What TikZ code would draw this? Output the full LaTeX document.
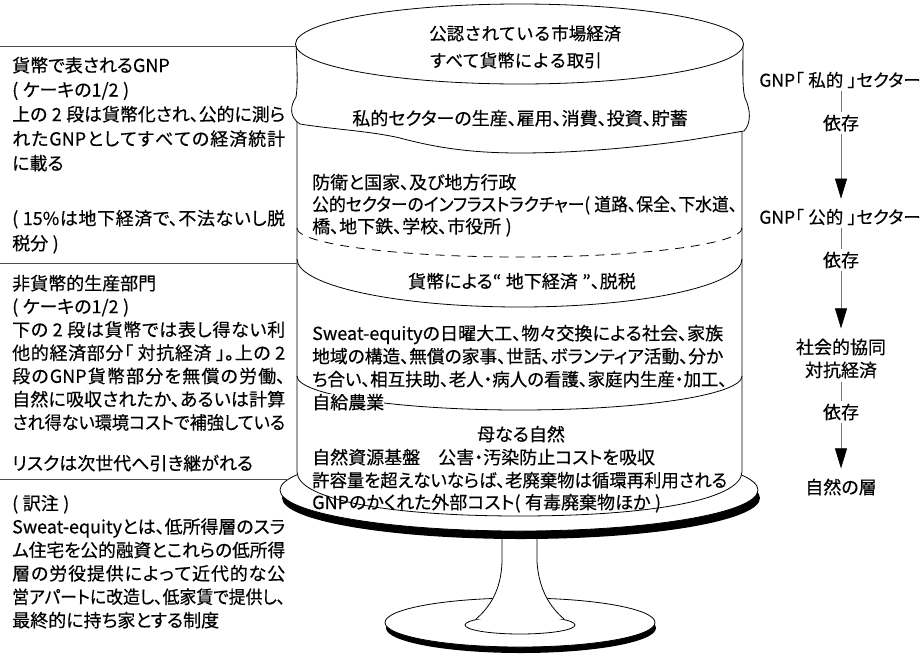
\documentclass[tikz,border=0pt]{standalone}
\usepackage{fontspec}
\usepackage{graphicx}
\setmainfont{Noto Sans CJK JP}[RawFeature=+palt, FakeBold=0.4]
\newfontfamily\fullwidth{Noto Sans CJK JP}[FakeBold=0.4]
\usetikzlibrary{arrows.meta}
% allow stretchable glue between Japanese characters (used for justified lines)
\XeTeXlinebreaklocale "ja"
\XeTeXlinebreakskip=0pt plus 1fil
% \J{width}{text}: justify a single line to the given width, or squeeze it if too long
\newsavebox\linebox
\newcommand{\J}[2]{\sbox\linebox{#2}%
  \ifdim\wd\linebox>#1pt\relax\resizebox{#1pt}{\height}{\usebox\linebox}%
  \else\parbox[t]{#1pt}{\parfillskip=0pt\relax#2}\fi}
\newcommand{\jgap}{\hspace{0.25em}}
\newcommand{\bodyfont}{\fontsize{18}{21}\selectfont}

\tikzset{
  lft/.style={anchor=base west, inner sep=0pt, font=\bodyfont},
  mid/.style={anchor=base, inner sep=0pt, font=\bodyfont},
  side/.style={anchor=center, inner sep=3pt, font=\bodyfont},
  rule/.style={draw=black!70, line width=0.9pt},
  outline/.style={draw=black, line width=0.8pt},
  dep/.style={draw=black!55, line width=0.6pt},
  deparrow/.style={dep, shorten >=7pt, -{Triangle[length=20pt,width=12pt,color=black]}},
}

\begin{document}
\begin{tikzpicture}[x=1pt, y=-1pt, line join=round]
\useasboundingbox (0,0) rectangle (921,654);

% ---- cake stand: foot, stem, plate ----
\fill (521,628) ellipse [x radius=135, y radius=25];
\draw[outline, fill=white] (520,622.5) ellipse [x radius=135, y radius=24.5];
\draw[outline] (520,625) ellipse [x radius=55, y radius=9];
\fill[white] (502,536) -- (502,562) .. controls (501,590) and (490,607) .. (476,619)
  -- (564,619) .. controls (550,607) and (539,590) .. (537,562) -- (537,536) -- cycle;
\draw[outline] (502,536) -- (502,562) .. controls (501,590) and (490,607) .. (476,619);
\draw[outline] (537,536) -- (537,562) .. controls (539,590) and (550,607) .. (564,619);
\fill (521,498) ellipse [x radius=239, y radius=41];
\draw[outline, fill=white] (519,490) ellipse [x radius=239, y radius=41];

% ---- cake body ----
\fill[white] (297,44) -- (297,472) .. controls (298,500) and (390,516) .. (519.5,516)
  .. controls (649,516) and (741,500) .. (742,472) -- (742,44) -- cycle;
\draw[outline] (297,120) -- (297,472) .. controls (298,500) and (390,516) .. (519.5,516)
  .. controls (649,516) and (741,500) .. (742,472) -- (742,128);

% layer boundaries
\draw[outline, dash pattern=on 9pt off 7pt] (297,228) .. controls (297,244) and (396.6,257) .. (519.5,257)
  .. controls (642.4,257) and (742,244) .. (742,228);
\draw[outline] (297,259) .. controls (297,285.5) and (396.6,307) .. (519.5,307)
  .. controls (642.4,307) and (742,285.5) .. (742,259);
\draw[outline] (297,376) .. controls (297,394.8) and (396.6,410) .. (519.5,410)
  .. controls (642.4,410) and (742,394.8) .. (742,376);

% top tier with its dripping lower edge
\draw[outline, fill=white] (296,44) .. controls (297,65) and (298,85) .. (296,97)
  .. controls (290,106) and (289,117) .. (300,124)
  .. controls (330,129) and (370,131) .. (400,138)
  .. controls (430,146) and (465,153) .. (519,153)
  .. controls (580,153) and (640,147) .. (690,140)
  .. controls (715,136) and (732,133) .. (744,131)
  .. controls (751,124) and (751,110) .. (745,98)
  .. controls (742,88) and (743,65) .. (743,44) -- cycle;
\draw[outline, fill=white] (519.5,44) ellipse [x radius=224, y radius=40];

% ---- rules of the left column ----
\draw[rule] (0,46) -- (296,46);
\draw[rule] (0,263) -- (297,263);
\draw[rule] (0,479) -- (289,479);

% ---- left column texts ----
\node[lft] (a1) at (12,72) {貨幣で表されるGNP};
\node[lft] (a2) at (12,96.5) {(\jgap ケーキの1/2\jgap)};
\node[lft] (a3) at (12,121) {\J{273}{上の\jgap 2\jgap 段は貨幣化され、公的に測ら}};
\node[lft] (a4) at (12,145.5) {\J{273}{れたGNPとしてすべての経済統計}};
\node[lft] (a5) at (12,170) {に載る};

\node[lft] (b1) at (12,225) {\J{273}{(\jgap 15\%は地下経済で、不法ないし脱}};
\node[lft] (b2) at (12,250) {税分\jgap)};

\node[lft] (c1) at (12,290) {非貨幣的生産部門};
\node[lft] (c2) at (12,313.2) {(\jgap ケーキの1/2\jgap)};
\node[lft] (c3) at (12,336.4) {\J{273}{下の\jgap 2\jgap 段は貨幣では表し得ない利}};
\node[lft] (c4) at (12,359.6) {\J{273}{他的経済部分「\jgap 対抗経済\jgap 」。上の\jgap 2}};
\node[lft] (c5) at (12,382.8) {\J{273}{段のGNP貨幣部分を無償の労働、}};
\node[lft] (c6) at (12,406) {\J{273}{自然に吸収されたか、あるいは計算}};
\node[lft] (c7) at (12,429.2) {\J{273}{され得ない環境コストで補強している}};
\node[lft] (c8) at (12,470) {リスクは次世代へ引き継がれる};

\node[lft] (d1) at (12,510) {(\jgap 訳注\jgap)};
\node[lft] (d2) at (12,533.4) {\J{273}{Sweat-equityとは、低所得層のスラ}};
\node[lft] (d3) at (12,556.8) {\J{273}{ム住宅を公的融資とこれらの低所得}};
\node[lft] (d4) at (12,580.2) {\J{273}{層の労役提供によって近代的な公}};
\node[lft] (d5) at (12,603.6) {\J{273}{営アパートに改造し、低家賃で提供し、}};
\node[lft] (d6) at (12,627) {最終的に持ち家とする制度};

% ---- texts on the cake ----
\node[lft, font=\fullwidth\fontsize{17.5}{21}\selectfont] (k1) at (429,40) {公認されている市場経済};
\node[lft, font=\fullwidth\fontsize{17.5}{21}\selectfont] (k2) at (429,67) {すべて貨幣による取引};
\node[mid] (k3) at (520,125) {私的セクターの生産、雇用、消費、投資、貯蓄};
\node[lft] (k4) at (312,189) {防衛と国家、及び地方行政};
\node[lft] (k5) at (312,211) {\J{425}{公的セクターのインフラストラクチャー(\jgap 道路、保全、下水道、}};
\node[lft] (k6) at (312,233) {橋、地下鉄、学校、市役所\jgap)};
\node[mid] (k7) at (522,288) {貨幣による“\jgap 地下経済\jgap ”、脱税};
\node[lft] (k8) at (312,340) {\J{411}{Sweat-equityの日曜大工、物々交換による社会、家族}};
\node[lft] (k9) at (312,363) {\J{411}{地域の構造、無償の家事、世話、ボランティア活動、分か}};
\node[lft] (k10) at (312,386) {\J{415}{ち合い、相互扶助、老人・病人の看護、家庭内生産・加工、}};
\node[lft, fill=white] (k11) at (312,409) {自給農業};
\node[mid] (k12) at (521,441) {母なる自然};
\node[lft] (k13) at (312,464) {自然資源基盤\hspace{1em}公害・汚染防止コストを吸収};
\node[lft] (k14) at (312,487) {\J{415}{許容量を超えないならば、老廃棄物は循環再利用される}};
\node[lft] (k15) at (312,509) {GNPのかくれた外部コスト(\jgap 有毒廃棄物ほか\jgap)};

% ---- dependency chain on the right ----
\node[side, font=\fontsize{17.5}{21}\selectfont] (r1) at (840,80) {GNP「\jgap 私的\jgap 」セクター};
\node[side] (r2) at (841,123) {依存};
\node[side, font=\fontsize{17.5}{21}\selectfont] (r3) at (840,217) {GNP「\jgap 公的\jgap 」セクター};
\node[side] (r4) at (841,260) {依存};
\node[side, align=center, font=\fontsize{18}{23}\selectfont] (r5) at (841,358.5) {社会的協同\\対抗経済};
\node[side] (r6) at (841,412) {依存};
\node[side] (r7) at (841,487) {自然の層};

\draw[dep] (r1.south -| r2) -- (r2);
\draw[deparrow] (r2) -- (r3.north -| r2);
\draw[dep] (r3.south -| r4) -- (r4);
\draw[deparrow] (r4) -- (r5);
\draw[dep] (r5) -- (r6);
\draw[deparrow] (r6) -- (r7);
\end{tikzpicture}
\end{document}
